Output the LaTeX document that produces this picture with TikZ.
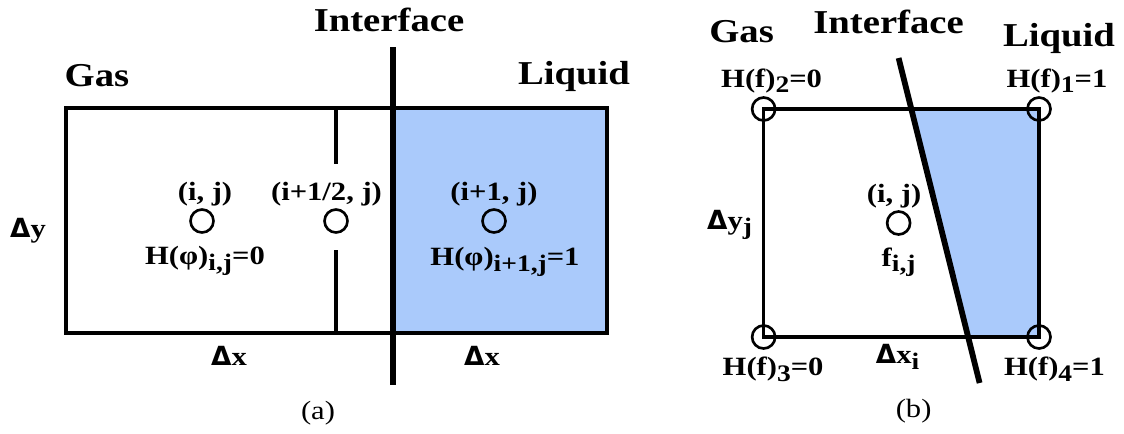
\documentclass[tikz,border=0pt]{standalone}
\usepackage{fontspec}
\setmainfont[FakeStretch=1.16]{Liberation Serif}
\newfontfamily\dfont{DejaVu Sans}
\usetikzlibrary{positioning}
\definecolor{liquid}{HTML}{AACAFB}
\definecolor{ink}{HTML}{000000}
\tikzset{
  every node/.style={font=\fontsize{15}{17}\selectfont\bfseries,text=ink,inner sep=1pt},
  phase/.style={font=\fontsize{19}{21}\selectfont\bfseries},
  cell/.style={draw=ink,line width=1.9pt},
  iface/.style={draw=ink,line width=3.3pt},
  pt/.style={circle,draw=ink,line width=1.5pt,minimum size=4.6mm,inner sep=0pt},
  capt/.style={font=\fontsize{15}{17}\selectfont\mdseries},
}
\newcommand{\lowsub}[1]{\raisebox{-0.45ex}{\fontsize{13.5}{14}\selectfont #1}}
\newcommand{\dlt}{{\dfont\bfseries Δ}}

\begin{document}
\begin{tikzpicture}[x=0.02cm,y=-0.02cm,node distance=1mm]
\useasboundingbox (0,0) rectangle (1124,433);

% (a) staggered cells across a vertical interface
\filldraw[cell,fill=liquid] (393,108) rectangle (607,333);
\draw[cell] (66,108) rectangle (393,333);
\coordinate (ha) at (336,108);
\coordinate (hb) at (336,164);
\coordinate (hc) at (336,250);
\coordinate (hd) at (336,333);
\draw[cell] (ha) -- (hb) (hc) -- (hd);
\coordinate (ifa) at (393,47);
\coordinate (ifb) at (393,385);
\draw[iface] (ifa) -- (ifb);

\node[pt] (cij) at (202,221) {};
\node[pt] (chalf) at (336,221) {};
\node[pt] (cnext) at (494,221) {};
\node[above=0mm of cij,xshift=0.6mm] (lij) {(i, j)};
\node[above=0mm of chalf,xshift=-1.9mm] (lhalf) {(i+1/2, j)};
\node[above=0mm of cnext] (lnext) {(i+1, j)};
\node[below=2.1mm of cij,xshift=0.6mm] (hij) {H(φ)\lowsub{i,j}=0};
\node[below=2.3mm of cnext,xshift=2.2mm] (hnext) {H(φ)\lowsub{i+1,j}=1};

\node (dya) at (28,231) {\dlt y};
\node (dxa) at (229,356) {\dlt x};
\node (dxb) at (482,356) {\dlt x};
\node[phase] (gasa) at (97,76) {Gas};
\node[phase] (liqa) at (574,76) {Liquid};
\node[phase] (ifla) at (389,20) {Interface};
\node[capt] (capa) at (318,413) {(a)};

% (b) one cell cut by a slanted interface
\coordinate (ifc) at (898.6,58);
\coordinate (ifd) at (979.6,383);
\fill[liquid] (911.3,109) -- (1039,109) -- (1039,337) -- (968.1,337) -- cycle;
\draw[cell] (763.6,109) rectangle (1039,337);
\draw[iface] (ifc) -- (ifd);

\node[pt] (k2) at (763.6,109) {};
\node[pt] (k1) at (1039,109) {};
\node[pt] (k3) at (763.6,337) {};
\node[pt] (k4) at (1039,337) {};
\node[pt] (cb) at (898.6,223) {};
\node[above=0mm of cb,xshift=-0.9mm] (lb) {(i, j)};
\node[below=2mm of cb] (fb) {f\lowsub{i,j}};
\node[above=0.2mm of k2,xshift=1.6mm] (h2) {H(f)\lowsub{2}=0};
\node[above=0.2mm of k1,xshift=3.6mm] (h1) {H(f)\lowsub{1}=1};
\node[below=1.1mm of k3,xshift=1.9mm] (h3) {H(f)\lowsub{3}=0};
\node[below=1.1mm of k4,xshift=3.1mm] (h4) {H(f)\lowsub{4}=1};

\node (dyb) at (729.6,225) {\dlt y\lowsub{j}};
\node (dxc) at (897.5,357) {\dlt x\lowsub{i}};
\node[phase] (gasb) at (741.6,32) {Gas};
\node[phase] (ifl2) at (888.6,22) {Interface};
\node[phase] (liqb) at (1059,38) {Liquid};
\node[capt] (capb) at (913.6,411) {(b)};

\end{tikzpicture}
\end{document}
